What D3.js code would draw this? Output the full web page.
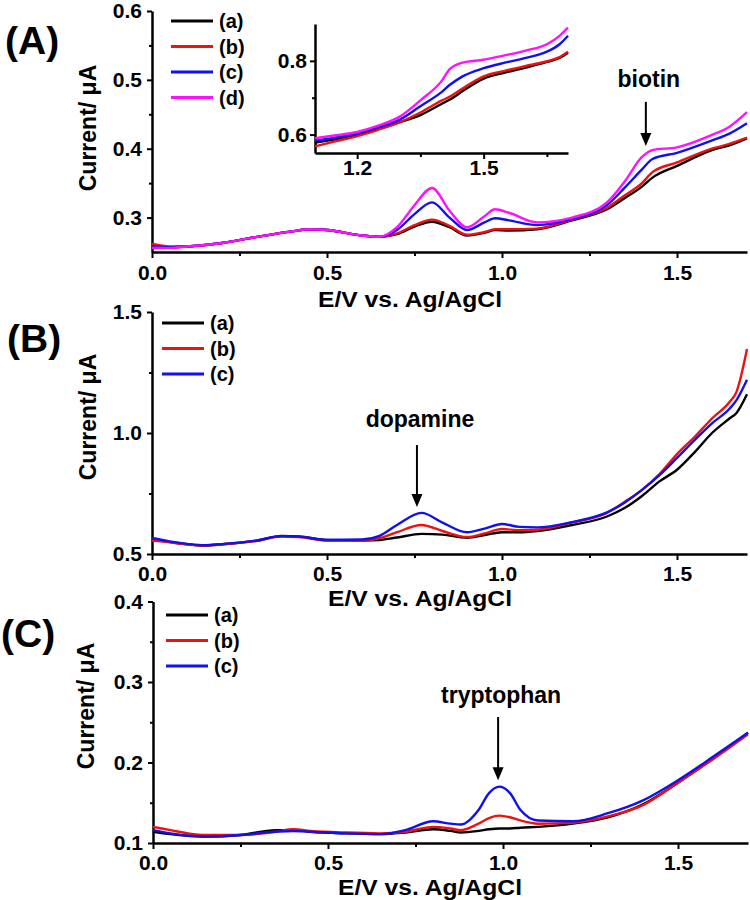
<!DOCTYPE html>
<html>
<head>
<meta charset="utf-8">
<script src="https://cdn.jsdelivr.net/npm/d3@7"></script>
<style>
  body { margin: 0; background: #fff; }
  text { font-family: "Liberation Sans", Arial, sans-serif; font-weight: bold; }
</style>
</head>
<body>
<div id="chart"></div>
<script>
// ---- data ----
var labelsABCD = ["(a)", "(b)", "(c)", "(d)"];
var colors = ["#000000", "#f01010", "#1010f0", "#ff10ff"];
var xTicks = [0, 0.5, 1.0, 1.5];
var xMinor = [0.25, 0.75, 1.25];

// (A) biotin
var potentialA = [0, 0.05, 0.1, 0.2, 0.3, 0.4, 0.45, 0.5, 0.6, 0.65, 0.7, 0.75, 0.8, 0.85, 0.9, 0.95, 0.98, 1.02, 1.1, 1.2, 1.3, 1.35, 1.4, 1.43, 1.5, 1.6, 1.65, 1.7];
var currentA_a = [0.258, 0.257, 0.258, 0.263, 0.272, 0.280, 0.283, 0.282, 0.274, 0.272, 0.276, 0.287, 0.294, 0.286, 0.274, 0.278, 0.282, 0.281, 0.283, 0.296, 0.312, 0.328, 0.345, 0.358, 0.375, 0.398, 0.405, 0.415];
var currentA_b = [0.262, 0.258, 0.258, 0.263, 0.272, 0.280, 0.283, 0.282, 0.274, 0.272, 0.277, 0.289, 0.297, 0.288, 0.275, 0.279, 0.283, 0.283, 0.284, 0.297, 0.314, 0.332, 0.350, 0.366, 0.380, 0.400, 0.407, 0.416];
var currentA_c = [0.258, 0.257, 0.258, 0.263, 0.272, 0.280, 0.283, 0.282, 0.274, 0.272, 0.282, 0.305, 0.322, 0.300, 0.282, 0.293, 0.299, 0.296, 0.289, 0.298, 0.318, 0.343, 0.370, 0.385, 0.394, 0.412, 0.422, 0.437];
var currentA_d = [0.256, 0.256, 0.258, 0.263, 0.272, 0.280, 0.283, 0.282, 0.274, 0.272, 0.286, 0.318, 0.343, 0.310, 0.286, 0.302, 0.312, 0.307, 0.293, 0.300, 0.322, 0.352, 0.388, 0.398, 0.402, 0.420, 0.432, 0.453];
var yTicksA = [0.3, 0.4, 0.5, 0.6];
var yMinorA = [0.35, 0.45, 0.55];

// (A) inset
var potentialInset = [1.1, 1.15, 1.2, 1.25, 1.3, 1.35, 1.4, 1.42, 1.45, 1.5, 1.55, 1.6, 1.65, 1.68, 1.7];
var inset_a = [0.578, 0.588, 0.600, 0.615, 0.633, 0.653, 0.683, 0.695, 0.718, 0.752, 0.768, 0.782, 0.797, 0.808, 0.822];
var inset_b = [0.568, 0.582, 0.596, 0.613, 0.633, 0.660, 0.692, 0.703, 0.725, 0.758, 0.773, 0.786, 0.799, 0.810, 0.825];
var inset_c = [0.583, 0.592, 0.603, 0.620, 0.640, 0.677, 0.715, 0.735, 0.758, 0.780, 0.795, 0.808, 0.825, 0.845, 0.868];
var inset_d = [0.590, 0.598, 0.607, 0.624, 0.648, 0.693, 0.745, 0.778, 0.795, 0.803, 0.815, 0.828, 0.845, 0.868, 0.890];
var xTicksInset = [1.2, 1.5];
var xMinorInset = [1.35, 1.65];
var yTicksInset = [0.6, 0.8];
var yMinorInset = [0.7];

// (B) dopamine
var potentialB = [0, 0.05, 0.1, 0.15, 0.2, 0.3, 0.37, 0.42, 0.5, 0.6, 0.65, 0.7, 0.77, 0.83, 0.9, 0.95, 1.0, 1.05, 1.1, 1.2, 1.3, 1.35, 1.4, 1.45, 1.5, 1.55, 1.6, 1.65, 1.67, 1.7];
var currentB_a = [0.562, 0.550, 0.540, 0.535, 0.540, 0.555, 0.575, 0.573, 0.558, 0.556, 0.558, 0.568, 0.583, 0.580, 0.567, 0.578, 0.590, 0.590, 0.595, 0.620, 0.655, 0.690, 0.740, 0.800, 0.848, 0.920, 1.000, 1.060, 1.083, 1.160];
var currentB_b = [0.556, 0.548, 0.540, 0.535, 0.540, 0.555, 0.572, 0.570, 0.556, 0.556, 0.565, 0.590, 0.620, 0.595, 0.570, 0.585, 0.603, 0.598, 0.600, 0.630, 0.670, 0.715, 0.765, 0.830, 0.913, 0.983, 1.060, 1.128, 1.170, 1.347];
var currentB_c = [0.566, 0.552, 0.542, 0.536, 0.541, 0.556, 0.574, 0.572, 0.558, 0.560, 0.575, 0.620, 0.670, 0.630, 0.590, 0.605, 0.624, 0.612, 0.610, 0.632, 0.672, 0.712, 0.765, 0.826, 0.897, 0.970, 1.040, 1.100, 1.136, 1.220];
var yTicksB = [0.5, 1.0, 1.5];
var yMinorB = [0.75, 1.25];

// (C) tryptophan
var potentialC = [0, 0.05, 0.1, 0.15, 0.25, 0.35, 0.4, 0.45, 0.55, 0.65, 0.72, 0.8, 0.85, 0.88, 0.93, 0.96, 0.99, 1.02, 1.05, 1.1, 1.2, 1.3, 1.4, 1.5, 1.6, 1.7];
var currentC_a = [0.114, 0.111, 0.109, 0.108, 0.110, 0.116, 0.116, 0.114, 0.112, 0.111, 0.113, 0.117, 0.115, 0.113, 0.115, 0.117, 0.118, 0.118, 0.119, 0.120, 0.124, 0.132, 0.148, 0.175, 0.205, 0.237];
var currentC_b = [0.120, 0.116, 0.112, 0.110, 0.110, 0.114, 0.117, 0.115, 0.113, 0.112, 0.114, 0.120, 0.118, 0.116, 0.124, 0.131, 0.134, 0.132, 0.128, 0.124, 0.125, 0.133, 0.147, 0.175, 0.204, 0.235];
var currentC_c = [0.116, 0.112, 0.109, 0.108, 0.110, 0.114, 0.115, 0.114, 0.112, 0.111, 0.116, 0.127, 0.124, 0.123, 0.141, 0.162, 0.170, 0.162, 0.141, 0.128, 0.127, 0.137, 0.153, 0.178, 0.207, 0.237];
var yTicksC = [0.1, 0.2, 0.3, 0.4];
var yMinorC = [0.15, 0.25, 0.35];

// ---- layout ----
var W = 750, H = 900;
var svg = d3.select("#chart").append("svg").attr("width", W).attr("height", H);
svg.append("rect").attr("width", W).attr("height", H).attr("fill", "#fff");

var panels = [
  {tag: "(A)", tagX: 5, tagY: 54, xr: [152, 747], yd: [0.25, 0.6], yr: [252, 11],
   x: potentialA, ys: [currentA_a, currentA_b, currentA_c, currentA_d],
   yTicks: yTicksA, yMinor: yMinorA, xPad: 7,
   titleX: 410, titleY: 307, yTitle: [96, 128],
   legend: {x: 171, y: 21},
   note: {text: "biotin", v: 1.411, top: 0.468, tip: 0.404, textAt: 0.49}},
  {tag: "(B)", tagX: 7, tagY: 352, xr: [152, 747], yd: [0.5, 1.5], yr: [554, 312],
   x: potentialB, ys: [currentB_a, currentB_b, currentB_c],
   yTicks: yTicksB, yMinor: yMinorB, xPad: 6,
   titleX: 420, titleY: 606, yTitle: [96, 417],
   legend: {x: 162, y: 323},
   note: {text: "dopamine", v: 0.757, top: 0.95, tip: 0.694, textAt: 1.025}},
  {tag: "(C)", tagX: 1, tagY: 647, xr: [153, 748], yd: [0.1, 0.4], yr: [843, 601.5],
   x: potentialC, ys: [currentC_a, currentC_b, currentC_c],
   yTicks: yTicksC, yMinor: yMinorC, xPad: 6,
   titleX: 430, titleY: 895, yTitle: [94, 706],
   legend: {x: 166, y: 615},
   note: {text: "tryptophan", v: 0.986, top: 0.2565, tip: 0.178, textAt: 0.274}}
];

function styleAxis(g, size) {
  g.selectAll("path.domain").attr("stroke", "#000").attr("stroke-width", 2.5);
  g.selectAll(".tick line").attr("stroke", "#000").attr("stroke-width", 2);
  g.selectAll(".tick text").attr("fill", "#000").style("font-size", size + "px");
}

function drawAxes(xs, ys, xt, xm, yt, ym, opt) {
  var gx = svg.append("g").attr("transform", "translate(0," + ys.range()[0] + ")")
    .call(d3.axisBottom(xs).tickValues(xt).tickFormat(d3.format(".1f"))
      .tickSize(6).tickSizeOuter(0).tickPadding(opt.xPad));
  styleAxis(gx, opt.font);
  var gxm = svg.append("g").attr("transform", "translate(0," + ys.range()[0] + ")")
    .call(d3.axisBottom(xs).tickValues(xm).tickFormat("").tickSize(4).tickSizeOuter(0));
  styleAxis(gxm, opt.font);
  gxm.select("path.domain").remove();

  var gy = svg.append("g").attr("transform", "translate(" + xs.range()[0] + ",0)")
    .call(d3.axisLeft(ys).tickValues(yt).tickFormat(d3.format(".1f"))
      .tickSize(5).tickSizeOuter(0).tickPadding(opt.yPad));
  styleAxis(gy, opt.font);
  var gym = svg.append("g").attr("transform", "translate(" + xs.range()[0] + ",0)")
    .call(d3.axisLeft(ys).tickValues(ym).tickFormat("").tickSize(3).tickSizeOuter(0));
  styleAxis(gym, opt.font);
  gym.select("path.domain").remove();
}

function drawCurves(xs, ys, xv, series) {
  var line = d3.line().curve(d3.curveMonotoneX);
  series.forEach(function (vals, i) {
    var pts = xv.map(function (v, k) { return [xs(v), ys(vals[k])]; });
    svg.append("path").attr("d", line(pts))
      .attr("fill", "none").attr("stroke", colors[i]).attr("stroke-width", 2.4)
      .attr("stroke-linejoin", "round");
  });
}

panels.forEach(function (p) {
  var xs = d3.scaleLinear().domain([0, 1.7]).range(p.xr);
  var ys = d3.scaleLinear().domain(p.yd).range(p.yr);

  drawAxes(xs, ys, xTicks, xMinor, p.yTicks, p.yMinor, {xPad: p.xPad, yPad: 5, font: 21});
  drawCurves(xs, ys, p.x, p.ys);

  // panel tag
  svg.append("text").attr("x", p.tagX).attr("y", p.tagY).style("font-size", "39px").text(p.tag);

  // axis titles
  svg.append("text").attr("x", p.titleX).attr("y", p.titleY)
    .attr("text-anchor", "middle").style("font-size", "22px")
    .attr("textLength", 184).attr("lengthAdjust", "spacingAndGlyphs")
    .text("E/V vs. Ag/AgCl");
  svg.append("text").attr("transform", "translate(" + p.yTitle[0] + "," + p.yTitle[1] + ") rotate(-90)")
    .attr("text-anchor", "middle").style("font-size", "23px").text("Current/ \u03bcA");

  // legend
  p.ys.forEach(function (s, i) {
    var yy = p.legend.y + i * 25.5;
    svg.append("line").attr("x1", p.legend.x).attr("x2", p.legend.x + 42)
      .attr("y1", yy).attr("y2", yy).attr("stroke", colors[i]).attr("stroke-width", 3);
    svg.append("text").attr("x", p.legend.x + 48).attr("y", yy).attr("dy", "0.36em")
      .style("font-size", "20px").text(labelsABCD[i]);
  });

  // annotation with arrow
  var n = p.note, ax = xs(n.v), yTop = ys(n.top), yTip = ys(n.tip);
  svg.append("text").attr("x", ax + 3).attr("y", ys(n.textAt))
    .attr("text-anchor", "middle").style("font-size", "23px").text(n.text);
  svg.append("line").attr("x1", ax).attr("x2", ax).attr("y1", yTop).attr("y2", yTip - 10)
    .attr("stroke", "#000").attr("stroke-width", 2);
  svg.append("path")
    .attr("d", "M" + (ax - 5.5) + "," + (yTip - 13) + "L" + (ax + 5.5) + "," + (yTip - 13) + "L" + ax + "," + yTip + "Z")
    .attr("fill", "#000");

  // inset for panel A
  if (p.tag === "(A)") {
    var ixs = d3.scaleLinear().domain([1.1, 1.7]).range([315, 568]);
    var iys = d3.scaleLinear().domain([0.55, 0.9]).range([153, 24]);
    drawAxes(ixs, iys, xTicksInset, xMinorInset, yTicksInset, yMinorInset, {xPad: 1, yPad: 3, font: 21});
    drawCurves(ixs, iys, potentialInset, [inset_a, inset_b, inset_c, inset_d]);
  }
});
</script>
</body>
</html>
